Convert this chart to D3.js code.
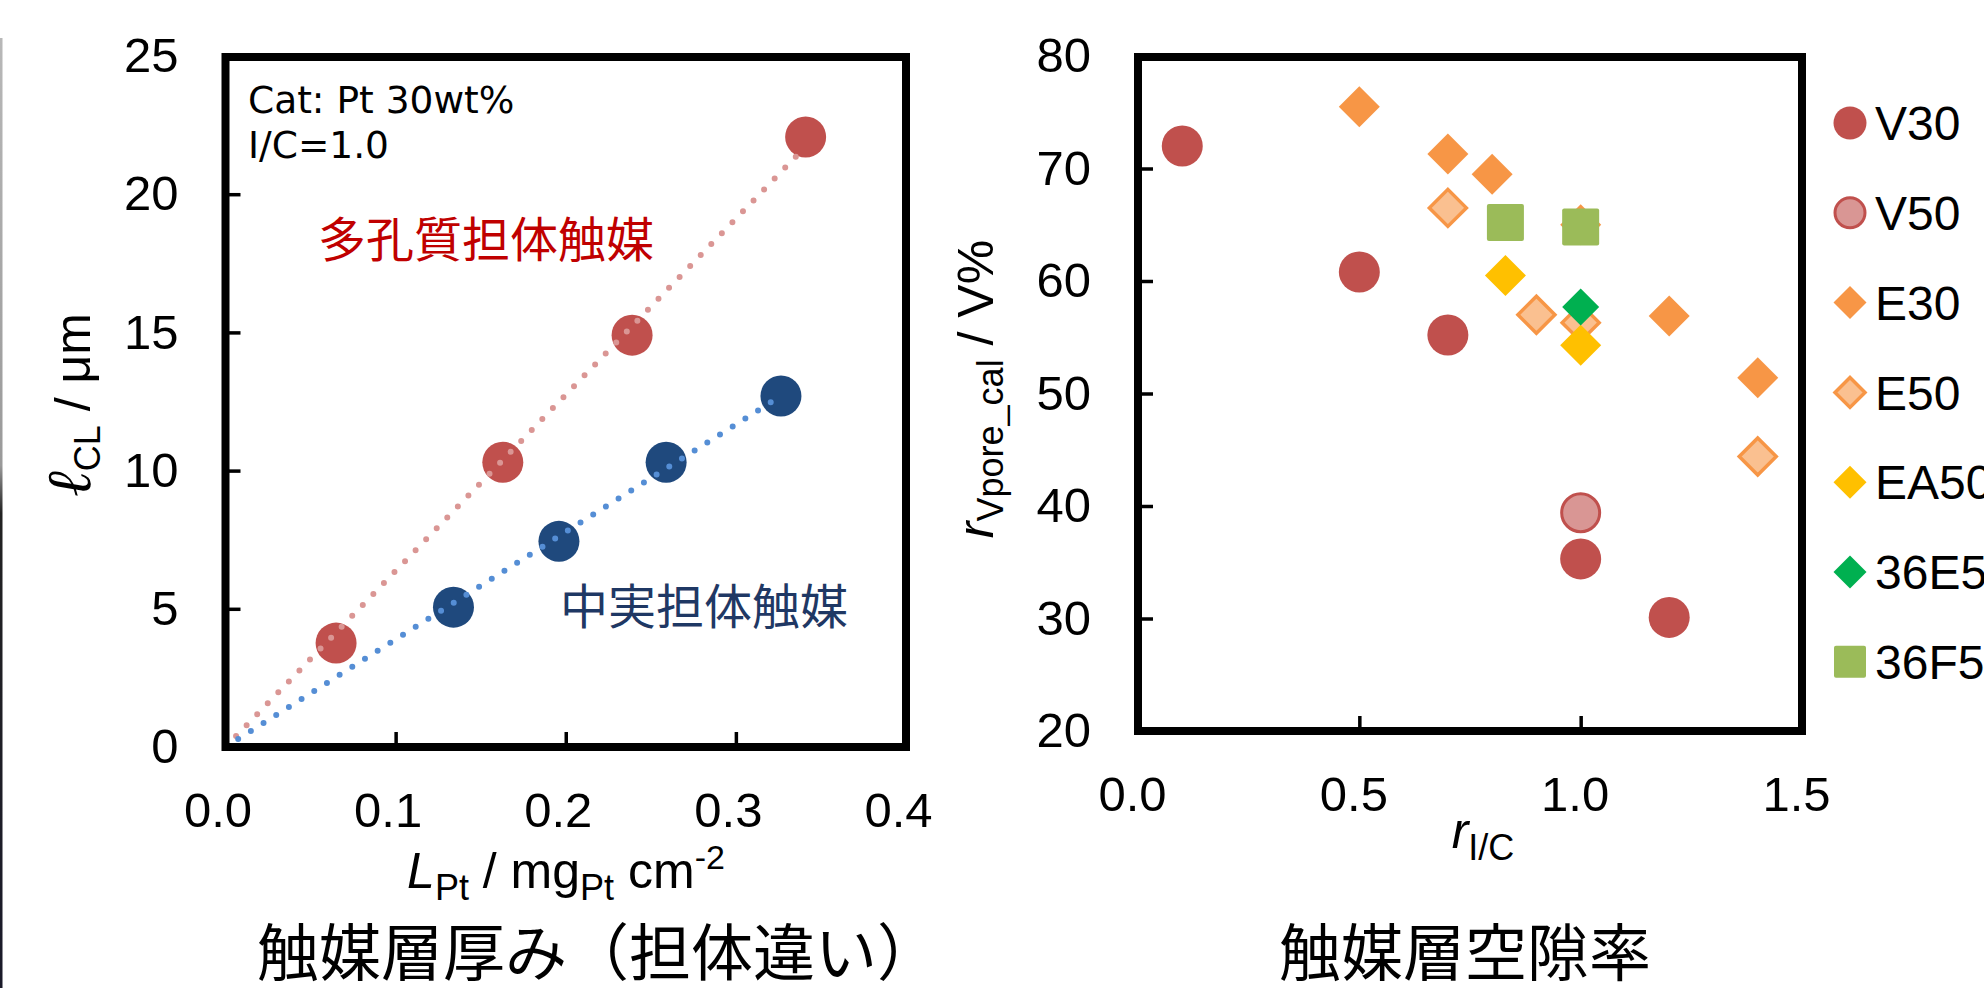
<!DOCTYPE html>
<html><head><meta charset="utf-8">
<script src="https://cdn.jsdelivr.net/npm/d3@7"></script>
<style>body{margin:0;background:#fff;overflow:hidden}svg{display:block}</style>
</head><body>
<svg id="c" width="1984" height="988"></svg>
<script>
// ---------- data: left chart (catalyst layer thickness) ----------
const leftXTicks = [0, 0.1, 0.2, 0.3, 0.4];
const leftYTicks = [0, 5, 10, 15, 20, 25];
const porousLoading = [0.065, 0.163, 0.239, 0.341];
const porousThickness = [3.76, 10.3, 14.9, 22.07];
const solidLoading = [0.134, 0.196, 0.259, 0.3265];
const solidThickness = [5.06, 7.44, 10.3, 12.7];
const porousLabel = "多孔質担体触媒";
const solidLabel = "中実担体触媒";
const noteLines = ["Cat: Pt 30wt%", "I/C=1.0"];
const leftTitle = "触媒層厚み（担体違い）";

// ---------- data: right chart (catalyst layer porosity) ----------
const rightXTicks = [0, 0.5, 1.0, 1.5];
const rightYTicks = [20, 30, 40, 50, 60, 70, 80];
const seriesNames = ["V30", "V50", "E30", "E50", "EA50", "36E50", "36F50"];
const v30X = [0.1, 0.5, 0.7, 1.0, 1.2];
const v30Y = [72.0, 60.8, 55.2, 35.3, 30.1];
const v50X = [1.0];
const v50Y = [39.4];
const e30X = [0.5, 0.7, 0.8, 1.0, 1.2, 1.4];
const e30Y = [75.5, 71.3, 69.5, 65.0, 56.9, 51.4];
const e50X = [0.7, 0.9, 1.0, 1.4];
const e50Y = [66.5, 57.0, 56.3, 44.4];
const ea50X = [0.83, 1.0];
const ea50Y = [60.5, 54.3];
const e36X = [1.0];
const e36Y = [57.7];
const f36X = [0.83, 1.0];
const f36Y = [65.2, 64.8];
const rightTitle = "触媒層空隙率";

const svg = d3.select("#c");
const LATIN = "'Liberation Sans', Arial, sans-serif";
const CJK = "'Noto Sans CJK JP', sans-serif";

// thin edge strip of neighbouring image
const grad = svg.append("defs").append("linearGradient").attr("id","edge")
  .attr("x1",0).attr("y1",0).attr("x2",0).attr("y2",1);
grad.append("stop").attr("offset","0").attr("stop-color","#b8b8b8");
grad.append("stop").attr("offset","0.45").attr("stop-color","#9a9a9a");
grad.append("stop").attr("offset","0.5").attr("stop-color","#222");
grad.append("stop").attr("offset","1").attr("stop-color","#1a1a2a");
svg.append("rect").attr("x",0).attr("y",38).attr("width",2.5).attr("height",950).attr("fill","url(#edge)");

// ---------- scales ----------
const lx = d3.scaleLinear().domain([0, 0.4]).range([225.5, 906]);
const ly = d3.scaleLinear().domain([0, 25]).range([747, 56]);
const rx = d3.scaleLinear().domain([0, 1.5]).range([1138, 1802]);
const ry = d3.scaleLinear().domain([20, 80]).range([731, 56]);

function styleAxis(g, dx) {
  g.select(".domain").remove();
  g.selectAll(".tick line").attr("stroke", "#000").attr("stroke-width", 3.5);
  g.selectAll(".tick text").attr("fill", "#000").attr("font-size", 49)
    .attr("font-family", LATIN).attr("dx", dx || 0);
}

// left axes
svg.append("g").attr("transform", "translate(0,747)")
  .call(d3.axisBottom(lx).tickValues(leftXTicks).tickFormat(d3.format(".1f"))
    .tickSizeInner(-15).tickSizeOuter(0).tickPadding(45))
  .call(g => styleAxis(g, -8));
svg.append("g").attr("transform", "translate(225.5,0)")
  .call(d3.axisLeft(ly).tickValues(leftYTicks).tickFormat(d3.format("d"))
    .tickSizeInner(-15).tickSizeOuter(0).tickPadding(47))
  .call(g => styleAxis(g, 0));

// right axes
svg.append("g").attr("transform", "translate(0,731)")
  .call(d3.axisBottom(rx).tickValues(rightXTicks).tickFormat(d3.format(".1f"))
    .tickSizeInner(-15).tickSizeOuter(0).tickPadding(45))
  .call(g => styleAxis(g, -6));
svg.append("g").attr("transform", "translate(1138,0)")
  .call(d3.axisLeft(ry).tickValues(rightYTicks).tickFormat(d3.format("d"))
    .tickSizeInner(-15).tickSizeOuter(0).tickPadding(47))
  .call(g => styleAxis(g, 0));

// ---------- left chart marks ----------
const porous = porousLoading.map((x, i) => ({x, y: porousThickness[i]}));
const solid = solidLoading.map((x, i) => ({x, y: solidThickness[i]}));

svg.append("g").selectAll("circle").data(porous).join("circle")
  .attr("cx", d => lx(d.x)).attr("cy", d => ly(d.y)).attr("r", 20.5).attr("fill", "#C0504D");
svg.append("g").selectAll("circle").data(solid).join("circle")
  .attr("cx", d => lx(d.x)).attr("cy", d => ly(d.y)).attr("r", 20.5).attr("fill", "#1F497D");

// trend lines through origin (least squares)
function originFit(pts) {
  const sxy = d3.sum(pts, p => p.x * p.y), sxx = d3.sum(pts, p => p.x * p.x);
  const k = sxy / sxx, xm = d3.max(pts, p => p.x);
  return [{x: 0, y: 0}, {x: xm, y: k * xm}];
}
const line = d3.line().x(d => lx(d.x)).y(d => ly(d.y));
svg.append("path").attr("d", line(originFit(porous))).attr("fill", "none")
  .attr("stroke", "#DA9694").attr("stroke-width", 6).attr("stroke-linecap", "round")
  .attr("stroke-dasharray", "0 15.2");
svg.append("path").attr("d", line(originFit(solid))).attr("fill", "none")
  .attr("stroke", "#558ED5").attr("stroke-width", 6).attr("stroke-linecap", "round")
  .attr("stroke-dasharray", "0 15");

// annotations
svg.append("g").selectAll("text").data(noteLines).join("text")
  .attr("x", 248).attr("y", (d, i) => 113 + i * 45)
  .attr("font-family", "'DejaVu Sans', Verdana, sans-serif").attr("font-size", 37.5)
  .attr("fill", "#000").text(d => d);
svg.append("text").attr("x", 318).attr("y", 257).attr("font-family", CJK)
  .attr("font-size", 48).attr("fill", "#C00000").text(porousLabel);
svg.append("text").attr("x", 560).attr("y", 624).attr("font-family", CJK)
  .attr("font-size", 48).attr("fill", "#1F3864").text(solidLabel);

// ---------- right chart marks ----------
const diamond = h => `M0,${-h}L${h},0L0,${h}L${-h},0Z`;
const series = [
  {name: seriesNames[0], xs: v30X, ys: v30Y, shape: "circle", fill: "#C0504D", stroke: "none", sw: 0},
  {name: seriesNames[1], xs: v50X, ys: v50Y, shape: "circle", fill: "#D99694", stroke: "#C0504D", sw: 3},
  {name: seriesNames[2], xs: e30X, ys: e30Y, shape: "diamond", fill: "#F79646", stroke: "none", sw: 0},
  {name: seriesNames[3], xs: e50X, ys: e50Y, shape: "diamond", fill: "#FAC090", stroke: "#F79646", sw: 3.5},
  {name: seriesNames[4], xs: ea50X, ys: ea50Y, shape: "diamond", fill: "#FFC000", stroke: "none", sw: 0},
  {name: seriesNames[5], xs: e36X, ys: e36Y, shape: "diamond", fill: "#00B050", stroke: "none", sw: 0, small: true},
  {name: seriesNames[6], xs: f36X, ys: f36Y, shape: "square", fill: "#9BBB59", stroke: "none", sw: 0}
];

function drawMarker(g, s, big) {
  if (s.shape === "circle") {
    g.append("circle").attr("r", big ? (s.sw ? 19 : 20.5) : (s.sw ? 15 : 16.5));
  } else if (s.shape === "diamond") {
    const h = big ? (s.small ? 18.5 : (s.sw ? 18.5 : 20.5)) : (s.sw ? 15 : 16.5);
    g.append("path").attr("d", diamond(h));
  } else {
    const a = big ? 37 : 32;
    g.append("rect").attr("x", -a / 2).attr("y", -a / 2).attr("width", a).attr("height", a).attr("rx", 2);
  }
  g.selectAll("*").attr("fill", s.fill).attr("stroke", s.stroke).attr("stroke-width", s.sw)
    .attr("stroke-linejoin", "miter");
}

series.forEach(s => {
  const pts = s.xs.map((x, i) => ({x, y: s.ys[i]}));
  svg.append("g").selectAll("g").data(pts).join("g")
    .attr("transform", d => `translate(${rx(d.x)},${ry(d.y)})`)
    .each(function () { drawMarker(d3.select(this), s, true); });
});

// legend (labels run past the right edge, as in the source image)
const leg = svg.append("g");
series.forEach((s, i) => {
  const g = leg.append("g").attr("transform", `translate(1850,${123 + i * 89.8})`);
  drawMarker(g, s, false);
  g.append("text").attr("x", 25).attr("y", 0).attr("dy", "0.36em")
    .attr("font-family", LATIN).attr("font-size", 48).attr("fill", "#000").text(s.name);
});

// ---------- frames ----------
svg.append("rect").attr("x", 225.5).attr("y", 57).attr("width", 906 - 225.5).attr("height", 747 - 57)
  .attr("fill", "none").attr("stroke", "#000").attr("stroke-width", 8);
svg.append("rect").attr("x", 1138).attr("y", 57).attr("width", 1802 - 1138).attr("height", 731 - 57)
  .attr("fill", "none").attr("stroke", "#000").attr("stroke-width", 8);

// ---------- axis titles ----------
function richText(sel, parts) {
  parts.forEach(p => {
    const t = sel.append("tspan").text(p.t).attr("font-size", p.fs || 50);
    if (p.dy) t.attr("dy", p.dy);
    if (p.it) t.attr("font-style", "italic");
    if (p.ff) t.attr("font-family", p.ff);
  });
}
// left x
richText(svg.append("text").attr("x", 566).attr("y", 888).attr("text-anchor", "middle")
  .attr("font-family", LATIN).attr("fill", "#000"), [
  {t: "L", it: true}, {t: "Pt", fs: 36, dy: 12}, {t: " / mg", dy: -12}, {t: "Pt", fs: 36, dy: 12},
  {t: " cm", dy: -12}, {t: "-2", fs: 34, dy: -19}]);
// left y
richText(svg.append("text").attr("transform", "translate(90,405) rotate(-90)").attr("text-anchor", "middle")
  .attr("font-family", LATIN).attr("fill", "#000"), [
  {t: "ℓ", it: true, fs: 62, ff: "'DejaVu Serif', serif"}, {t: "CL", fs: 36, dy: 10}, {t: " / μm", dy: -10}]);
// right x
richText(svg.append("text").attr("x", 1483).attr("y", 848).attr("text-anchor", "middle")
  .attr("font-family", LATIN).attr("fill", "#000"), [
  {t: "r", it: true}, {t: "I/C", fs: 36, dy: 12}]);
// right y
richText(svg.append("text").attr("transform", "translate(993,389) rotate(-90)").attr("text-anchor", "middle")
  .attr("font-family", LATIN).attr("fill", "#000"), [
  {t: "r", it: true}, {t: "Vpore_cal", fs: 36, dy: 10}, {t: " / V%", dy: -10}]);

// ---------- panel titles ----------
svg.append("text").attr("x", 257).attr("y", 976).attr("font-family", CJK).attr("font-size", 62)
  .attr("fill", "#000").text(leftTitle);
svg.append("text").attr("x", 1279).attr("y", 976).attr("font-family", CJK).attr("font-size", 62)
  .attr("fill", "#000").text(rightTitle);
</script>
</body></html>
